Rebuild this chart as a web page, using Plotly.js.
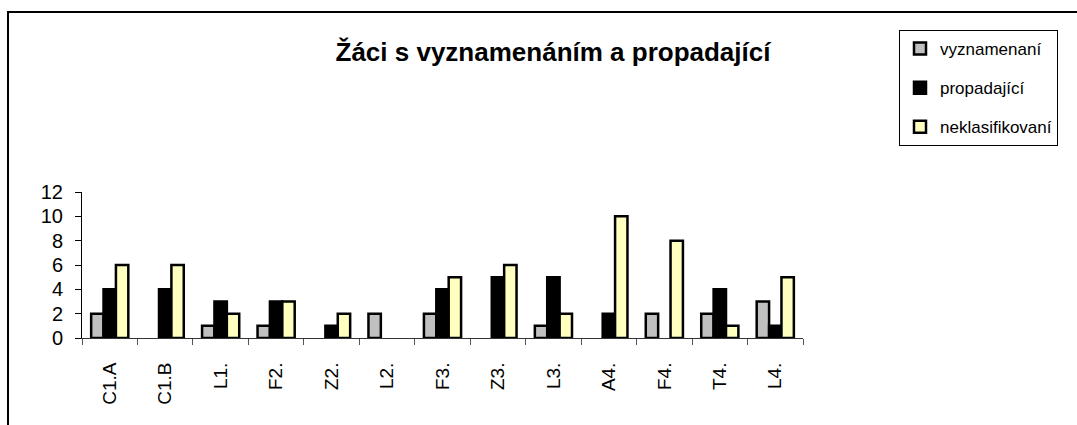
<!DOCTYPE html>
<html>
<head>
<meta charset="utf-8">
<script src="https://cdn.plot.ly/plotly-3.0.1.min.js"></script>
<style>html,body{margin:0;padding:0;background:#fff;}#chart{width:1077px;height:425px;}</style>
</head>
<body>
<div id="chart"></div>
<script>
const categories = ["C1.A","C1.B","L1.","F2.","Z2.","L2.","F3.","Z3.","L3.","A4.","F4.","T4.","L4."];
const vyznamenani = [2,0,1,1,0,2,2,0,1,0,2,2,3];
const propadajici = [4,4,3,3,1,0,4,5,5,2,0,4,1];
const neklasifikovani = [6,6,2,3,2,0,5,6,2,10,8,1,5];
const seriesNames = ["vyznamenaní","propadající","neklasifikovaní"];
const yTicks = [0,2,4,6,8,10,12];

const W = 1077, H = 425;
const L = 82, R = 803, T = 192, B = 338;
const px = x => (x - L) / (R - L);
const py = y => (B - y) / (B - T);

const colors = ["#C0C0C0","#000000","#FFFFC0"];
const data = [vyznamenani, propadajici, neklasifikovani].map((vals, i) => ({
  type: "bar",
  name: seriesNames[i],
  x: categories,
  y: vals,
  legendgroup: "g" + i,
  marker: {color: colors[i], line: {color: "#000", width: vals.map(v => v === 0 ? 0 : 2.5)}},
  hoverinfo: "x+y+name"
}));

const layout = {
  width: W, height: H,
  paper_bgcolor: "#fff", plot_bgcolor: "rgba(0,0,0,0)",
  font: {family: "Liberation Sans, Arial, sans-serif", color: "#000", size: 18},
  margin: {l: L, r: W - R, t: T, b: H - B, pad: 0},
  barmode: "group",
  bargap: 0.33,
  bargroupgap: 0,
  showlegend: true,
  title: {
    text: "<b>Žáci s vyznamenáním a propadající</b>",
    font: {size: 26, family: "Liberation Sans, Arial, sans-serif", color: "#000"},
    xref: "container", x: 553 / W, xanchor: "center",
    yref: "container", y: 1 - 52 / H, yanchor: "middle"
  },
  xaxis: {
    type: "category",
    showgrid: false, zeroline: false,
    showline: true, linecolor: "#333", linewidth: 1,
    ticks: "outside", tickson: "boundaries", ticklen: 6, tickcolor: "#555", tickwidth: 1,
    tickangle: -90,
    tickfont: {size: 19},
    ticklabelstandoff: 16
  },
  yaxis: {
    range: [0, 12], autorange: false,
    tickvals: yTicks, ticktext: yTicks.map(String),
    showgrid: false, zeroline: false,
    showline: true, linecolor: "#000", linewidth: 1,
    ticks: "outside", ticklen: 6, tickcolor: "#000",
    tickfont: {size: 20},
    ticklabelstandoff: 8
  },
  legend: {
    xref: "container", yref: "container",
    x: 899 / W, y: 1 - 30 / H, xanchor: "left", yanchor: "top",
    bgcolor: "#fff", bordercolor: "#000", borderwidth: 1,
    font: {size: 17},
    traceorder: "grouped", tracegroupgap: 14,
    itemwidth: 30
  },
  shapes: [
    {type: "line", xref: "paper", yref: "paper", x0: px(7), x1: px(W + 5), y0: py(12), y1: py(12), line: {color: "#000", width: 2}},
    {type: "line", xref: "paper", yref: "paper", x0: px(8), x1: px(8), y0: py(12), y1: py(H + 5), line: {color: "#000", width: 2}}
  ]
};

Plotly.newPlot("chart", data, layout, {displayModeBar: false, staticPlot: true});
</script>
</body>
</html>
